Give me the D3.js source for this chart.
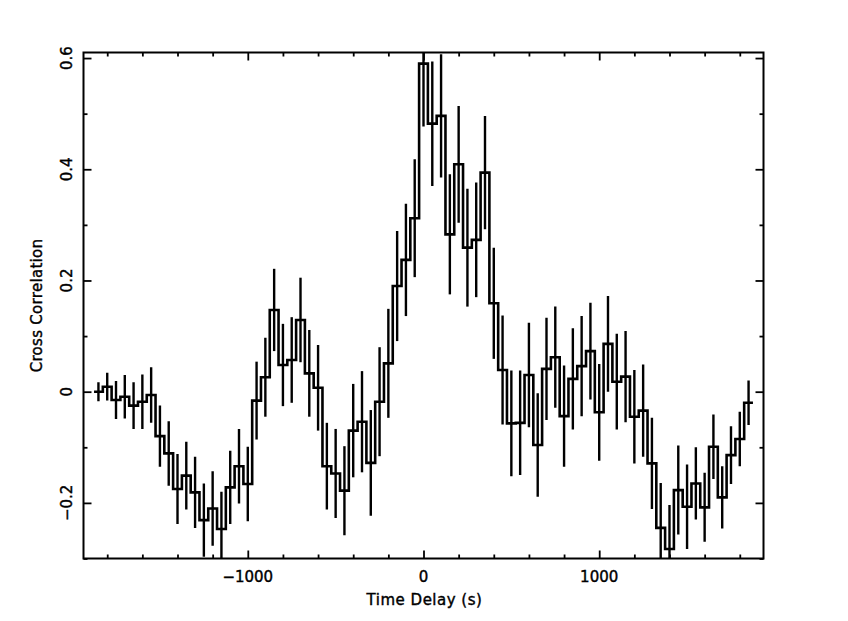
<!DOCTYPE html>
<html>
<head>
<meta charset="utf-8">
<script src="https://cdn.jsdelivr.net/npm/d3@7"></script>
<style>
  html, body { margin: 0; padding: 0; background: #fff; }
  svg { display: block; }
  text { font-family: "DejaVu Sans", sans-serif; fill: #000; }
</style>
</head>
<body>
<svg id="chart" width="848" height="621"></svg>
<script>
// ---- data ----
const delays = [-1850,-1800,-1750,-1700,-1650,-1600,-1550,-1500,-1450,-1400,-1350,-1300,-1250,-1200,-1150,-1100,-1050,-1000,-950,-900,-850,-800,-750,-700,-650,-600,-550,-500,-450,-400,-350,-300,-250,-200,-150,-100,-50,0,50,100,150,200,250,300,350,400,450,500,550,600,650,700,750,800,850,900,950,1000,1050,1100,1150,1200,1250,1300,1350,1400,1450,1500,1550,1600,1650,1700,1750,1800,1850];
const binWidth = 50;
const ccf = [0.000,0.009,-0.015,-0.009,-0.025,-0.018,-0.006,-0.080,-0.111,-0.175,-0.151,-0.181,-0.231,-0.210,-0.247,-0.172,-0.134,-0.166,-0.016,0.026,0.147,0.048,0.057,0.129,0.033,0.007,-0.134,-0.147,-0.178,-0.070,-0.054,-0.128,-0.018,0.051,0.190,0.237,0.312,0.590,0.482,0.496,0.283,0.409,0.259,0.273,0.394,0.159,0.039,-0.057,-0.056,0.030,-0.096,0.041,0.062,-0.044,0.023,0.046,0.073,-0.037,0.086,0.018,0.027,-0.045,-0.034,-0.129,-0.245,-0.283,-0.177,-0.207,-0.165,-0.208,-0.099,-0.190,-0.114,-0.085,-0.020];
const ccfErr = [0.017,0.025,0.034,0.039,0.042,0.049,0.050,0.055,0.058,0.063,0.061,0.064,0.066,0.067,0.067,0.066,0.067,0.067,0.070,0.071,0.074,0.074,0.077,0.076,0.078,0.077,0.078,0.080,0.080,0.084,0.091,0.095,0.098,0.098,0.099,0.101,0.106,0.113,0.112,0.111,0.108,0.105,0.106,0.103,0.102,0.100,0.098,0.095,0.094,0.094,0.093,0.092,0.091,0.091,0.091,0.090,0.087,0.087,0.086,0.086,0.082,0.084,0.083,0.082,0.081,0.079,0.080,0.076,0.065,0.062,0.058,0.056,0.052,0.049,0.040];
const xMajorTicks = [-1000, 0, 1000];
const xMinorTicks = [-1800,-1600,-1400,-1200,-800,-600,-400,-200,200,400,600,800,1200,1400,1600,1800];
const yMajorTicks = [-0.2, 0, 0.2, 0.4, 0.6];
const yMinorTicks = [-0.3, -0.1, 0.1, 0.3, 0.5];
const xDomain = [-1935, 1935];
const yDomain = [-0.3, 0.61];
const xTitle = "Time Delay (s)";
const yTitle = "Cross Correlation";

// ---- layout ----
const L = 83.5, R = 763.5, T = 52.5, B = 558.5;
const svg = d3.select("#chart");
svg.append("rect").attr("width", 848).attr("height", 621).attr("fill", "#fff");

const x = d3.scaleLinear().domain(xDomain).range([L, R]);
const y = d3.scaleLinear().domain(yDomain).range([B, T]);

const defs = svg.append("defs");
defs.append("clipPath").attr("id", "plotclip")
  .append("rect").attr("x", L).attr("y", T).attr("width", R - L).attr("height", B - T);

const data = delays.map((d, i) => ({ t: d, v: ccf[i], e: ccfErr[i] }));

const plot = svg.append("g").attr("clip-path", "url(#plotclip)");

// histogram-style step line: horizontal across each bin, vertical at edges
const stepPts = [];
data.forEach(d => {
  stepPts.push([d.t - binWidth / 2, d.v]);
  stepPts.push([d.t + binWidth / 2, d.v]);
});
const line = d3.line().x(p => x(p[0])).y(p => y(p[1]));
plot.append("path")
  .attr("d", line(stepPts))
  .attr("fill", "none")
  .attr("stroke", "#000")
  .attr("stroke-width", 2.6)
  .attr("stroke-linejoin", "miter");

// error bars
plot.selectAll("line.err").data(data).join("line")
  .attr("class", "err")
  .attr("x1", d => x(d.t)).attr("x2", d => x(d.t))
  .attr("y1", d => y(d.v - d.e)).attr("y2", d => y(d.v + d.e))
  .attr("stroke", "#000").attr("stroke-width", 2.4);

// ---- axes (ticks pointing inward on all four sides) ----
function tickAxis(axisFn, scale, values, size, transform) {
  const ax = axisFn(scale).tickValues(values).tickSize(-size).tickFormat("");
  const g = svg.append("g").attr("transform", transform).call(ax);
  g.select(".domain").remove();
  g.selectAll(".tick line").attr("stroke", "#000").attr("stroke-width", 1.8);
  return g;
}
tickAxis(d3.axisBottom, x, xMajorTicks, 8, `translate(0,${B})`);
tickAxis(d3.axisBottom, x, xMinorTicks, 4, `translate(0,${B})`);
tickAxis(d3.axisTop, x, xMajorTicks, 8, `translate(0,${T})`);
tickAxis(d3.axisTop, x, xMinorTicks, 4, `translate(0,${T})`);
tickAxis(d3.axisLeft, y, yMajorTicks, 8, `translate(${L},0)`);
tickAxis(d3.axisLeft, y, yMinorTicks, 4, `translate(${L},0)`);
tickAxis(d3.axisRight, y, yMajorTicks, 8, `translate(${R},0)`);
tickAxis(d3.axisRight, y, yMinorTicks, 4, `translate(${R},0)`);

// frame
svg.append("rect")
  .attr("x", L).attr("y", T).attr("width", R - L).attr("height", B - T)
  .attr("fill", "none").attr("stroke", "#000").attr("stroke-width", 2);

// tick labels
const fmt = d => d === 0 ? "0" : d3.format("")(d);
const textStyle = sel => sel
  .attr("font-size", 15)
  .attr("stroke", "#000").attr("stroke-width", 0.4);

svg.append("g").selectAll("text").data(xMajorTicks).join("text")
  .attr("x", d => x(d)).attr("y", 582)
  .attr("text-anchor", "middle")
  .text(fmt).call(textStyle);

svg.append("g").selectAll("text").data(yMajorTicks).join("text")
  .attr("transform", d => `translate(71.5,${y(d)}) rotate(-90)`)
  .attr("text-anchor", "middle")
  .text(fmt).call(textStyle);

// axis titles
svg.append("text")
  .attr("x", (L + R) / 2 + 1).attr("y", 605)
  .attr("text-anchor", "middle")
  .attr("letter-spacing", 0.5)
  .text(xTitle).call(textStyle);

svg.append("text")
  .attr("transform", `translate(42,${(T + B) / 2}) rotate(-90)`)
  .attr("text-anchor", "middle")
  .attr("letter-spacing", 0.3)
  .text(yTitle).call(textStyle);
</script>
</body>
</html>
